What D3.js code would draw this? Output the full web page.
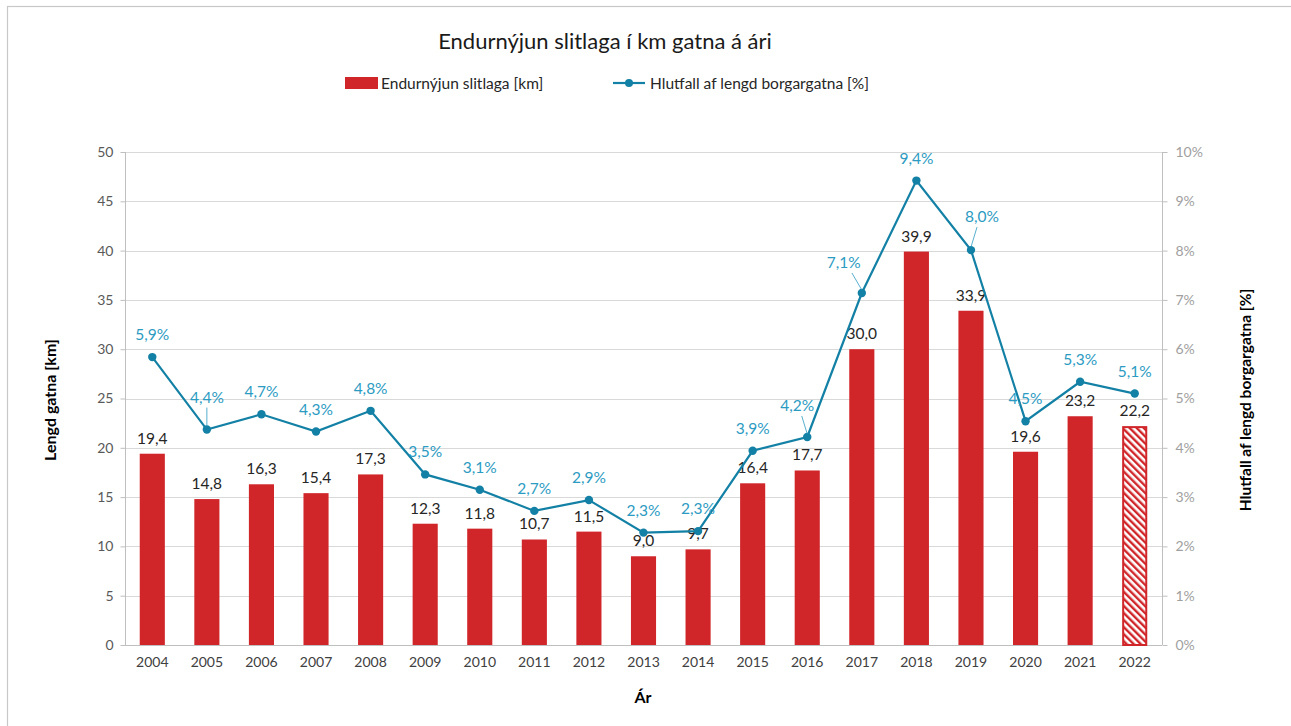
<!DOCTYPE html>
<html><head><meta charset="utf-8">
<script src="https://cdn.jsdelivr.net/npm/d3@7"></script>
<style>body{margin:0;background:#fff;}svg{display:block;font-family:Lato,"Noto Sans",sans-serif;}</style>
</head><body><svg id="c" width="1291" height="726"></svg>
<script>
const years = ["2004","2005","2006","2007","2008","2009","2010","2011","2012","2013","2014","2015","2016","2017","2018","2019","2020","2021","2022"];
const kmValues = [19.4,14.8,16.3,15.4,17.3,12.3,11.8,10.7,11.5,9.0,9.7,16.4,17.7,30.0,39.9,33.9,19.6,23.2,22.2];
const pctValues = [5.84,4.37,4.68,4.33,4.75,3.46,3.15,2.72,2.94,2.28,2.31,3.94,4.22,7.14,9.42,8.01,4.54,5.34,5.10];
const pctLabels = ["5,9%","4,4%","4,7%","4,3%","4,8%","3,5%","3,1%","2,7%","2,9%","2,3%","2,3%","3,9%","4,2%","7,1%","9,4%","8,0%","4,5%","5,3%","5,1%"];
const leftTicks = [0,5,10,15,20,25,30,35,40,45,50];
const rightTicks = [0,1,2,3,4,5,6,7,8,9,10];
const estimatedYear = "2022";
const title = "Endurnýjun  slitlaga í km gatna á ári";
const legendBar = "Endurnýjun slitlaga [km]";
const legendLine = "Hlutfall af lengd borgargatna [%]";
const yLeftTitle = "Lengd gatna [km]";
const yRightTitle = "Hlutfall af lengd borgargatna [%]";
const xTitle = "Ár";

// layout tweaks for percent labels (dx, dy from point) where the original uses leader lines
const pctLabelShift = {"2005":[0,-27],"2016":[-10,-26],"2017":[-18,-25],"2019":[11,-28]};

const svg = d3.select("#c");
const m = {l:125, r:1162, t:152, b:645};
const barColor = "#d0262a", lineColor = "#1380a5", pctColor = "#2c9bc2";
const FF = "Lato,'Noto Sans',sans-serif";

svg.append("rect").attr("x",7.5).attr("y",6.5).attr("width",1300).attr("height",740)
  .attr("fill","#fff").attr("stroke","#c8c8c8").attr("stroke-width",1.2);

const defs = svg.append("defs");
const pat = defs.append("pattern").attr("id","hatch").attr("patternUnits","userSpaceOnUse")
  .attr("width",5).attr("height",5).attr("patternTransform","rotate(-45)");
pat.append("rect").attr("width",5).attr("height",5).attr("fill","#fff");
pat.append("rect").attr("width",2.4).attr("height",5).attr("fill",barColor);

const x = d3.scaleBand().domain(years).range([m.l,m.r]).paddingInner(0.54).paddingOuter(0.27);
const yL = d3.scaleLinear().domain([0,50]).range([m.b,m.t]);
const yR = d3.scaleLinear().domain([0,10]).range([m.b,m.t]);

// gridlines
svg.append("g").selectAll("line").data(leftTicks.slice(1)).join("line")
  .attr("x1",m.l).attr("x2",m.r).attr("y1",d=>Math.round(yL(d))+0.5).attr("y2",d=>Math.round(yL(d))+0.5)
  .attr("stroke","#d9d9d9").attr("stroke-width",1);

// left axis
const gl = svg.append("g").attr("transform",`translate(${m.l+0.5},0)`)
  .call(d3.axisLeft(yL).tickValues(leftTicks).tickSize(5).tickPadding(7).tickFormat(d=>d));
gl.select(".domain").attr("stroke","#bfbfbf").attr("d",`M-0,${m.t}V${m.b}`);
gl.selectAll(".tick line").attr("stroke","#bfbfbf");
gl.selectAll(".tick text").attr("fill","#595959").style("font-size","14px").style("font-family",FF);

// right axis
const gr = svg.append("g").attr("transform",`translate(${m.r+0.5},0)`)
  .call(d3.axisRight(yR).tickValues(rightTicks).tickSize(5).tickPadding(8).tickFormat(d=>d+"%"));
gr.select(".domain").attr("stroke","#bfbfbf").attr("d",`M0,${m.t}V${m.b}`);
gr.selectAll(".tick line").attr("stroke","#bfbfbf");
gr.selectAll(".tick text").attr("fill","#a0a0a0").style("font-size","14px").style("font-family",FF);

// bottom axis
const gb = svg.append("g").attr("transform",`translate(0,${m.b+0.5})`)
  .call(d3.axisBottom(x).tickSize(0).tickPadding(12));
gb.select(".domain").attr("stroke","#bfbfbf").attr("d",`M${m.l},0H${m.r}`);
gb.selectAll(".tick text").attr("fill","#404040").style("font-size","14px").style("font-family",FF);

// bars
const data = years.map((y,i)=>({y,km:kmValues[i],pct:pctValues[i],lab:pctLabels[i]}));
svg.append("g").selectAll("rect").data(data).join("rect")
  .attr("x",d=>d.y===estimatedYear ? x(d.y)+1 : x(d.y))
  .attr("width",d=>d.y===estimatedYear ? x.bandwidth()-2 : x.bandwidth())
  .attr("y",d=>d.y===estimatedYear ? yL(d.km)+1 : yL(d.km))
  .attr("height",d=>d.y===estimatedYear ? m.b-yL(d.km)-1 : m.b-yL(d.km))
  .attr("fill",d=>d.y===estimatedYear ? "url(#hatch)" : barColor)
  .attr("stroke",d=>d.y===estimatedYear ? barColor : "none")
  .attr("stroke-width",2);

// bar labels
svg.append("g").selectAll("text").data(data).join("text")
  .attr("x",d=>x(d.y)+x.bandwidth()/2).attr("y",d=>yL(d.km)-10)
  .attr("text-anchor","middle").attr("fill","#262626").style("font-size","15.5px")
  .text(d=>d3.format(".1f")(d.km).replace(".",","));

// line
const cx = d=>x(d.y)+x.bandwidth()/2;
svg.append("path").datum(data)
  .attr("d",d3.line().x(cx).y(d=>yR(d.pct)))
  .attr("fill","none").attr("stroke",lineColor).attr("stroke-width",2.2);
svg.append("g").selectAll("circle").data(data).join("circle")
  .attr("cx",cx).attr("cy",d=>yR(d.pct)).attr("r",4.2).attr("fill",lineColor);

// pct labels
const pl = svg.append("g");
data.forEach(d=>{
  const s = pctLabelShift[d.y];
  const dx = s ? s[0] : 0, dy = s ? s[1] : -17;
  const px = cx(d), py = yR(d.pct);
  if (s) {
    pl.append("line").attr("x1",px+dx*0.55).attr("y1",py+dy+5).attr("x2",px).attr("y2",py-3)
      .attr("stroke",pctColor).attr("stroke-width",0.8);
  }
  pl.append("text").attr("x",px+dx).attr("y",py+dy)
    .attr("text-anchor","middle").attr("fill",pctColor).style("font-size","15.5px").text(d.lab);
});

// title
svg.append("text").attr("x",605).attr("y",49).attr("text-anchor","middle")
  .attr("fill","#1a1a1a").style("font-size","22px").text(title);

// legend
svg.append("rect").attr("x",345).attr("y",77).attr("width",33).attr("height",12).attr("fill",barColor);
svg.append("text").attr("x",381).attr("y",89).attr("fill","#262626").style("font-size","15.5px").text(legendBar);
svg.append("line").attr("x1",613).attr("x2",645).attr("y1",83).attr("y2",83).attr("stroke",lineColor).attr("stroke-width",2.2);
svg.append("circle").attr("cx",629).attr("cy",83).attr("r",4).attr("fill",lineColor);
svg.append("text").attr("x",650).attr("y",89).attr("fill","#262626").style("font-size","15.5px").text(legendLine);

// axis titles
svg.append("text").attr("transform","translate(56,400) rotate(-90)").attr("text-anchor","middle")
  .attr("fill","#000").style("font-size","16px").style("font-weight","bold").text(yLeftTitle);
svg.append("text").attr("transform","translate(1251,400) rotate(-90)").attr("text-anchor","middle")
  .attr("fill","#000").style("font-size","15.5px").style("font-weight","bold").text(yRightTitle);
svg.append("text").attr("x",643).attr("y",703).attr("text-anchor","middle")
  .attr("fill","#000").style("font-size","16px").style("font-weight","bold").text(xTitle);
</script></body></html>
